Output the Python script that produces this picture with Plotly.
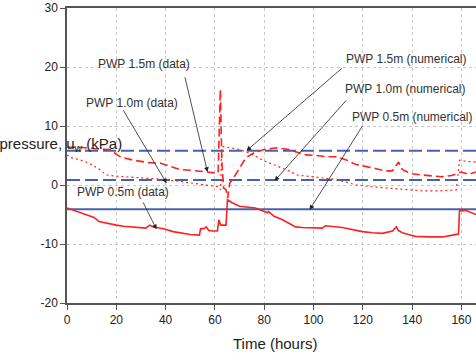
import plotly.graph_objects as go

# ---- data ----
t15 = [0, 5, 13, 17.5, 20, 22, 27, 33, 38, 42, 46, 50, 54, 58, 61.3, 62.2, 62.8, 63.5, 64.5, 65.2, 66, 68, 70, 72.5, 76, 80, 85, 90, 93, 97, 101, 105, 109, 113, 117, 121, 125, 129, 132, 134.5, 135.5, 137, 140, 144, 148, 152, 156, 158.5, 160, 163, 165.9]
v15 = [6.4, 6.4, 6.1, 6.0, 5.2, 4.7, 4.2, 3.8, 3.7, 3.2, 2.6, 2.5, 2.3, 2.1, 2.0, 16.2, 4.0, -0.5, -0.8, -2.2, 0.3, 1.5, 2.8, 4.6, 5.5, 6.0, 6.3, 6.0, 5.6, 5.1, 5.0, 4.8, 4.8, 4.3, 3.5, 3.2, 2.8, 2.4, 2.4, 3.9, 2.8, 2.4, 1.9, 1.7, 1.5, 1.4, 1.6, 2.0, 2.2, 1.8, 2.2]

t10 = [0, 1, 5, 9, 13, 16, 20, 24, 30, 37.5, 44, 51, 56, 61.5, 62.3, 62.8, 65, 69, 72.8, 76, 79.3, 83, 86.2, 90, 93.1, 97, 101.2, 108, 113, 117.4, 124, 130.8, 138, 144.1, 151, 157.9, 159.2, 162, 165.9]
v10 = [5.1, 4.7, 4.3, 3.7, 2.7, 1.7, 1.5, 1.4, 1.2, 1.0, 0.7, 0.3, 0.1, -0.3, -0.8, 6.5, 6.4, 6.1, 5.6, 5.0, 4.2, 3.6, 3.1, 2.4, 1.7, 1.5, 1.4, 1.0, 0.5, 0.0, -0.3, -0.5, -0.8, -1.0, -1.0, -0.85, 4.2, 4.0, 3.9]

t05 = [0, 5, 9, 11, 13, 17, 20, 23, 27, 32, 33.5, 35, 37.5, 40, 43, 47, 50, 53.7, 54.2, 55.5, 56.5, 57.5, 59, 61, 61.6, 62.3, 64.5, 65.1, 67, 70, 72.4, 76.4, 81.4, 81.8, 84, 87.4, 92.7, 95.5, 103.6, 104.8, 111.7, 116, 119.8, 124, 127.9, 132, 133.6, 134.4, 136, 138.5, 141.3, 147, 152.2, 156.4, 158.8, 159.2, 161.6, 165.9]
v05 = [-3.9, -4.6, -5.2, -5.5, -6.2, -6.6, -6.8, -7.0, -7.1, -7.3, -6.8, -7.1, -7.3, -7.5, -7.9, -8.2, -8.4, -8.5, -7.4, -7.4, -7.1, -7.7, -7.8, -7.8, -5.9, -6.8, -6.8, -2.5, -3.0, -3.6, -3.7, -3.9, -4.7, -4.5, -5.3, -5.9, -7.1, -7.2, -7.3, -6.9, -7.2, -7.6, -7.9, -8.1, -8.2, -7.8, -7.1, -7.7, -8.1, -8.4, -8.7, -8.8, -8.8, -8.5, -8.3, -4.4, -4.3, -5.0]

t_num = [0, 165.9]
num15 = [5.8, 5.8]
num10 = [0.85, 0.85]
num05 = [-4.1, -4.1]

x_ticks = [0, 20, 40, 60, 80, 100, 120, 140, 160]
y_ticks = [-20, -10, 0, 10, 20, 30]
y_tick_text = ["-20", "-10", "0", "10", "20", "30"]

RED = "#FF2020"
BLUE = "#4563AC"
FONT = "Liberation Sans, Arial, sans-serif"

fig = go.Figure()
fig.add_trace(go.Scatter(x=t_num, y=num15, mode="lines", line=dict(color=BLUE, width=2, dash="13px,5px")))
fig.add_trace(go.Scatter(x=t_num, y=num10, mode="lines", line=dict(color=BLUE, width=2, dash="13px,5px")))
fig.add_trace(go.Scatter(x=t_num, y=num05, mode="lines", line=dict(color=BLUE, width=2)))
fig.add_trace(go.Scatter(x=t15, y=v15, mode="lines", line=dict(color=RED, width=1.6, dash="8px,4px")))
fig.add_trace(go.Scatter(x=t10, y=v10, mode="lines", line=dict(color=RED, width=1.2, dash="2px,3px")))
fig.add_trace(go.Scatter(x=t05, y=v05, mode="lines", line=dict(color=RED, width=1.6)))

# labels and arrows: (text, text_x, text_y, tail_x, tail_y, head_x, head_y)
labels = [
    ("PWP 1.5m (data)", 31.4, 20.5, 47.7, 18.5, 57.0, 2.2),
    ("PWP 1.0m (data)", 26.2, 13.9, 22.5, 12.9, 40.4, 0.3),
    ("PWP 0.5m (data)", 22.7, -1.2, 30.6, -2.7, 36.3, -7.5),
    ("PWP 1.5m (numerical)", 137.7, 21.4, 112.1, 20.0, 72.8, 5.8),
    ("PWP 1.0m (numerical)", 136.9, 16.3, 113.8, 14.6, 84.2, 0.7),
    ("PWP 0.5m (numerical)", 139.8, 11.5, 120.3, 10.3, 98.4, -4.2),
]
for txt, tx, ty, ax, ay, hx, hy in labels:
    fig.add_annotation(x=tx, y=ty, xref="x", yref="y", text=txt, showarrow=False,
                       font=dict(family=FONT, size=12, color="#333333"))
    fig.add_annotation(x=hx, y=hy, xref="x", yref="y", ax=ax, ay=ay, axref="x", ayref="y",
                       text="", showarrow=True, arrowhead=2, arrowsize=1.2, arrowwidth=0.8,
                       arrowcolor="#222222", standoff=0, startstandoff=0)

fig.add_annotation(x=(124 - 67) / 409, y=(184 - 143) / 5.9, xref="paper", yref="y",
                   xanchor="right", yanchor="middle",
                   text="Pore-water pressure, u<sub>w</sub> (kPa)", showarrow=False,
                   font=dict(family=FONT, size=15, color="#222222"))
fig.add_annotation(x=(275 - 67) / 409, y=(303 - 343) / 295, xref="paper", yref="paper",
                   xanchor="center", yanchor="middle", text="Time (hours)", showarrow=False,
                   font=dict(family=FONT, size=15, color="#222222"))

fig.update_layout(
    width=476, height=355,
    margin=dict(l=67, r=0, t=8, b=52),
    paper_bgcolor="white", plot_bgcolor="white",
    showlegend=False,
    font=dict(family=FONT, size=12, color="#222222"),
    xaxis=dict(range=[0, 165.9], tickvals=x_ticks, showgrid=True, gridcolor="#C8C8C8",
               griddash="dot", gridwidth=1, zeroline=False, showline=True, linecolor="#555555",
               linewidth=1.5, mirror=True, ticks="outside", ticklen=5, tickcolor="#555555",
               tickfont=dict(family=FONT, size=12, color="#222222")),
    yaxis=dict(range=[-20, 30], tickvals=y_ticks, ticktext=y_tick_text, showgrid=True,
               gridcolor="#C8C8C8", griddash="dot", gridwidth=1, zeroline=False, showline=True,
               linecolor="#555555", linewidth=1.5, ticks="outside", ticklen=5, tickcolor="#555555",
               tickfont=dict(family=FONT, size=12, color="#222222")),
)

fig.write_html("out.html")
